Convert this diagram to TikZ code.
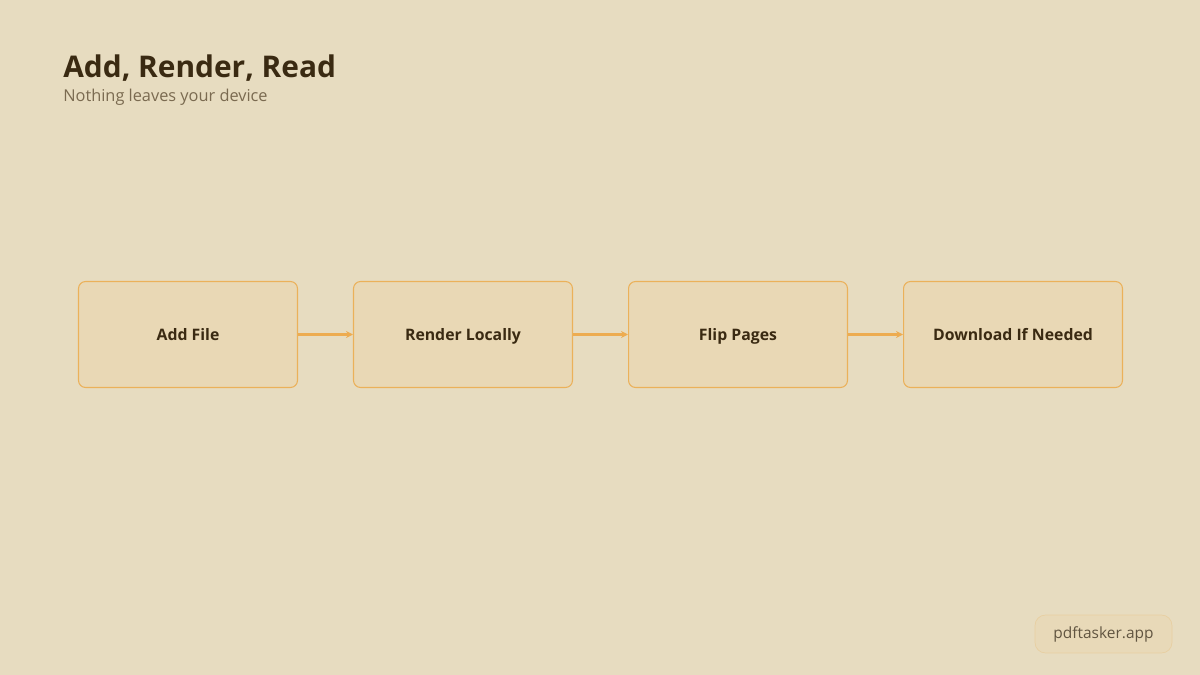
\documentclass[tikz,border=0pt]{standalone}
\usepackage{fontspec}
\setmainfont{Open Sans}
\usetikzlibrary{arrows.meta,positioning}
\definecolor{bgcol}{HTML}{E7DCC0}
\definecolor{boxfill}{HTML}{E9D8B5}
\definecolor{boxline}{HTML}{EBB15A}
\definecolor{inkcol}{HTML}{3A2A12}
\definecolor{subcol}{HTML}{7A6A50}
\tikzset{
  stagebox/.style={draw=boxline, fill=boxfill, rounded corners=4pt, line width=0.6pt,
    minimum width=4.38cm, minimum height=2.12cm, text=inkcol, text height=1.5ex, text depth=.3ex,
    font=\fontsize{9}{11}\selectfont\bfseries},
  flow/.style={draw=boxline!90!orange, line width=1.2pt, -{Stealth[length=4pt,width=4pt]}}
}
\begin{document}
\begin{tikzpicture}[x=0.02cm,y=-0.02cm]
  \fill[bgcol] (0,0) rectangle (1200,675);
  \useasboundingbox (0,0) rectangle (1200,675);

  % Title block
  \node[anchor=base west, inner sep=0, text=inkcol, font=\fontsize{17}{20}\selectfont\bfseries] (title) at (63,78) {Add, Render, Read};
  \node[anchor=base west, inner sep=0, text=subcol, font=\fontsize{9.3}{11}\selectfont] (sub) at (63,102) {Nothing leaves your device};

  % Steps
  \node[stagebox] (add) at (188,334.5) {Add File};
  \node[stagebox, right=1.1cm of add] (render) {Render Locally};
  \node[stagebox, right=1.1cm of render] (flip) {Flip Pages};
  \node[stagebox, right=1.1cm of flip] (down) {Download If Needed};

  \foreach \a/\b in {add/render, render/flip, flip/down}
    \draw[flow] (\a) -- (\b);

  % Footer
  \node[draw=boxline!30!bgcol, fill=boxfill!70!bgcol, rounded corners=6pt, minimum width=2.74cm, minimum height=0.76cm,
    text=inkcol!80, font=\fontsize{8.8}{11}\selectfont] (site) at (1103.5,634) {pdftasker.app};
\end{tikzpicture}
\end{document}
